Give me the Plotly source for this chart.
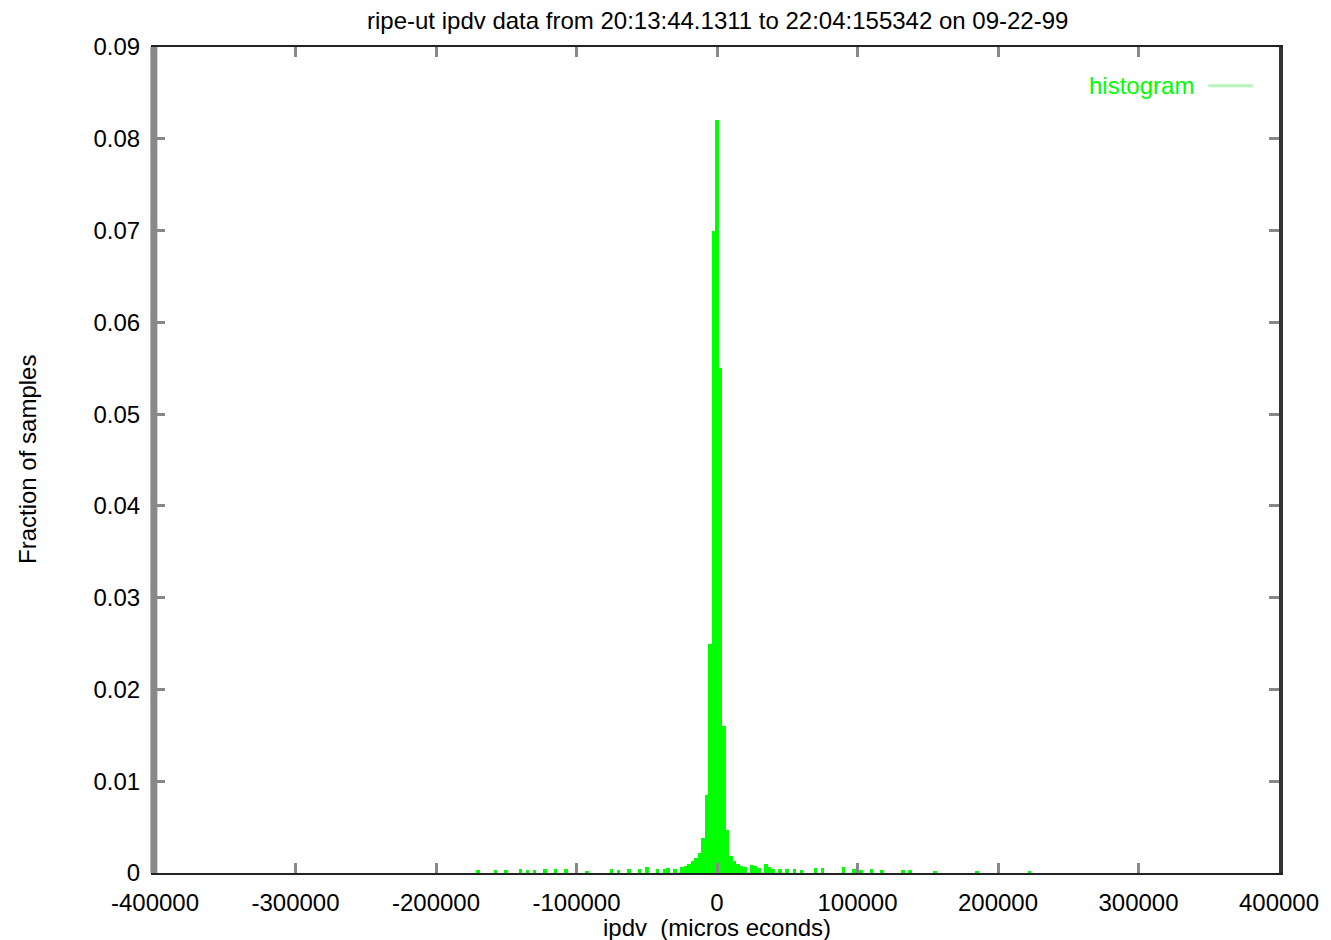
import plotly.graph_objects as go

# ---- data ----
bin_centers_us = [
    -170000, -157500, -150000, -140000, -135000, -130000, -122500, -115000,
    -107500, -100000, -92500, -75000, -70000, -62500, -55000, -50000,
    -42500, -37500, -35000, -30000, -25000, -22500, -20000, -17500,
    -15000, -12500, -10000, -7500, -5000, -2500, 0, 2500,
    5000, 7500, 10000, 12500, 15000, 17500, 20000, 25000,
    27500, 30000, 35000, 37500, 40000, 45000, 50000, 55000,
    60000, 70000, 75000, 90000, 97500, 102500, 110000, 117500,
    132500, 137500, 155000, 185000, 222500,
]
fraction_of_samples = [
    0.0003, 0.0003, 0.0003, 0.0004, 0.0003, 0.0003, 0.0004, 0.0004,
    0.0004, 0.0004, 0.0002, 0.0004, 0.0003, 0.0004, 0.0004, 0.0007,
    0.0004, 0.0004, 0.0005, 0.0004, 0.0006, 0.0008, 0.0010, 0.0013,
    0.0016, 0.0022, 0.0038, 0.0085, 0.0250, 0.0700, 0.0820, 0.0550,
    0.0160, 0.0047, 0.0018, 0.0013, 0.0010, 0.0008, 0.0006, 0.0009,
    0.0008, 0.0005, 0.0010, 0.0006, 0.0004, 0.0004, 0.0004, 0.0004,
    0.0003, 0.0005, 0.0005, 0.0006, 0.0004, 0.0003, 0.0004, 0.0003,
    0.0003, 0.0003, 0.0002, 0.0002, 0.0002,
]
x_tick_vals = [-400000, -300000, -200000, -100000, 0, 100000, 200000, 300000, 400000]
x_tick_text = ["-400000", "-300000", "-200000", "-100000", "0", "100000", "200000", "300000", "400000"]
y_tick_vals = [0, 0.01, 0.02, 0.03, 0.04, 0.05, 0.06, 0.07, 0.08, 0.09]
y_tick_text = ["0", "0.01", "0.02", "0.03", "0.04", "0.05", "0.06", "0.07", "0.08", "0.09"]
bin_width_us = 2500

title_text = "ripe-ut ipdv data from 20:13:44.1311 to 22:04:155342 on 09-22-99"
x_title = "ipdv  (micros econds)"
y_title = "Fraction of samples"
series_name = "histogram"

FONT = "Liberation Sans, Arial, sans-serif"
GREEN = "#00ff00"

fig = go.Figure()
fig.add_trace(go.Bar(
    x=bin_centers_us, y=fraction_of_samples, width=bin_width_us,
    marker=dict(color=GREEN, line=dict(width=0)), name=series_name,
    showlegend=False,
))

fig.update_layout(
    width=1331, height=940,
    margin=dict(l=155, r=46, t=47, b=67),
    paper_bgcolor="white", plot_bgcolor="white",
    font=dict(family=FONT, size=24, color="black"),
    bargap=0,
    showlegend=False,
    xaxis=dict(
        range=[-400000, 400000], tickvals=x_tick_vals, ticktext=x_tick_text,
        ticks="inside", ticklen=10, tickwidth=3, tickcolor="#888888",
        showline=True, linecolor="#222222", linewidth=2, mirror="ticks",
        showgrid=False, zeroline=False, tickfont=dict(size=24, family=FONT),
        ticklabelstandoff=7,
    ),
    yaxis=dict(
        range=[0, 0.09], tickvals=y_tick_vals, ticktext=y_tick_text,
        ticks="inside", ticklen=10, tickwidth=3, tickcolor="#888888",
        showline=True, linecolor="#333333", linewidth=4, mirror="ticks",
        showgrid=False, zeroline=False, tickfont=dict(size=24, family=FONT),
        ticklabelstandoff=6,
    ),
    annotations=[
        dict(text=title_text, xref="paper", yref="paper", x=0.5, y=1,
             yshift=27, xanchor="center", yanchor="middle", showarrow=False,
             font=dict(size=24, family=FONT)),
        dict(text=x_title, xref="paper", yref="paper", x=0.5, y=0,
             yshift=-54, xanchor="center", yanchor="middle", showarrow=False,
             font=dict(size=24, family=FONT)),
        dict(text=y_title, xref="paper", yref="paper", x=0, y=0.5,
             xshift=-128, xanchor="center", yanchor="middle", textangle=-90,
             showarrow=False, font=dict(size=24, family=FONT)),
        dict(text=series_name, xref="paper", yref="paper", x=0.926, y=0.953,
             xanchor="right", yanchor="middle", showarrow=False,
             font=dict(size=24, family=FONT, color=GREEN)),
    ],
    shapes=[
        dict(type="line", xref="paper", yref="paper", x0=0.937, x1=0.977,
             y0=0.953, y1=0.953, line=dict(color="#b8f5b8", width=3)),
        dict(type="line", xref="paper", yref="paper", x0=-0.001, x1=-0.001,
             y0=0, y1=1, line=dict(color="#888888", width=7)),
    ],
)

fig.write_html("out.html")
